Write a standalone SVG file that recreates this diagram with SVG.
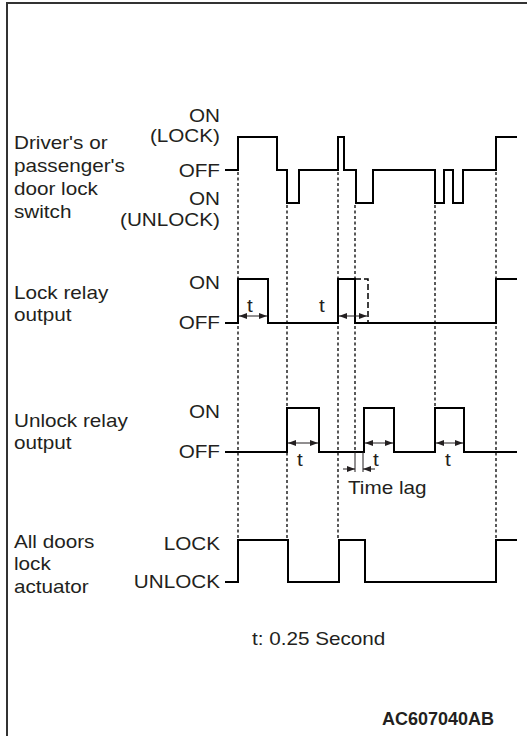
<svg xmlns="http://www.w3.org/2000/svg" width="527" height="736" viewBox="0 0 527 736">
<defs>
<marker id="ah" viewBox="0 0 8 6" refX="8" refY="3" markerWidth="8" markerHeight="6" markerUnits="userSpaceOnUse" orient="auto-start-reverse">
<path d="M0,0 L8,3 L0,6 Z" fill="#231f20"/>
</marker>
</defs>
<style>
text{font-family:"Liberation Sans",Arial,sans-serif;font-size:18px;fill:#231f20}
.r{text-anchor:end}
.b{font-weight:bold}
.w{fill:none;stroke:#000;stroke-width:2;stroke-linejoin:miter}
.d{fill:none;stroke:#000;stroke-width:1.3;stroke-dasharray:3 2.5}
.ld{fill:none;stroke:#000;stroke-width:1.5;stroke-dasharray:6 3}
.a{fill:none;stroke:#231f20;stroke-width:1;marker-start:url(#ah);marker-end:url(#ah)}
.a1{fill:none;stroke:#231f20;stroke-width:1;marker-end:url(#ah)}
.t{fill:none;stroke:#231f20;stroke-width:1}
</style>
<g id="frame">
<path d="M7,736 V3 H527" fill="none" stroke="#333" stroke-width="2"/>
</g>
<g id="connectors">
<path class="d" d="M238,172 V540"/>
<path class="d" d="M287,205 V540"/>
<path class="d" d="M338,172 V540"/>
<path class="d" d="M355,205 V452"/>
<path class="d" d="M435,205 V408"/>
<path class="d" d="M496,172 V540"/>
</g>
<g id="switch">
<g transform="scale(1.15 1)">
<text x="12.17" y="149">Driver's or</text>
<text x="12.17" y="172">passenger's</text>
<text x="12.17" y="195">door lock</text>
<text x="12.17" y="218">switch</text>
<text class="r" x="191.3" y="122">ON</text>
<text class="r" x="191.3" y="142">(LOCK)</text>
<text class="r" x="191.3" y="177">OFF</text>
<text class="r" x="191.3" y="205">ON</text>
<text class="r" x="191.3" y="226">(UNLOCK)</text>
</g>
<path class="w" d="M225,170 H238 V137 H277 V170 H287 V203 H299 V170 H338 V137 H344 V170 H356 V203 H373 V170 H435 V203 H444 V170 H453 V203 H463 V170 H496 V137 H517"/>
</g>
<g id="lock-relay">
<g transform="scale(1.15 1)">
<text x="12.17" y="299">Lock relay</text>
<text x="12.17" y="321">output</text>
<text class="r" x="191.3" y="289">ON</text>
<text class="r" x="191.3" y="329">OFF</text>
<text x="214.8" y="312">t</text>
<text x="277.4" y="312">t</text>
</g>
<path class="w" d="M225,323 H238 V279 H268 V323 H338 V279 H355 V323 H496 V279 H517"/>
<path class="ld" d="M355,279 H368 V323"/>
<path class="a" d="M239,316 H267"/>
<path class="a" d="M339,316 H367"/>
</g>
<g id="unlock-relay">
<g transform="scale(1.15 1)">
<text x="12.17" y="427">Unlock relay</text>
<text x="12.17" y="449">output</text>
<text class="r" x="191.3" y="418">ON</text>
<text class="r" x="191.3" y="458">OFF</text>
<text x="258.3" y="466">t</text>
<text x="324.3" y="466">t</text>
<text x="387" y="466">t</text>
<text x="302.6" y="494">Time lag</text>
</g>
<path class="w" d="M225,452 H287 V408 H319 V452 H364 V408 H394 V452 H435 V408 H464 V452 H517"/>
<path class="a" d="M288,443 H318"/>
<path class="a" d="M365,443 H393"/>
<path class="a" d="M436,443 H463"/>
<path class="t" d="M355,452 V472 M363,452 V472"/>
<path class="a1" d="M343,469 H355"/>
<path class="a1" d="M375,469 H363"/>
</g>
<g id="actuator">
<g transform="scale(1.15 1)">
<text x="12.17" y="548">All doors</text>
<text x="12.17" y="570">lock</text>
<text x="12.17" y="593">actuator</text>
<text class="r" x="191.3" y="550">LOCK</text>
<text class="r" x="191.3" y="588">UNLOCK</text>
</g>
<path class="w" d="M225,582 H238 V540 H288 V582 H339 V540 H365 V582 H496 V540 H517"/>
</g>
<g id="notes">
<g transform="scale(1.15 1)">
<text x="219.1" y="645">t: 0.25 Second</text>
</g>
<text class="b" x="382" y="725">AC607040AB</text>
</g>
</svg>
